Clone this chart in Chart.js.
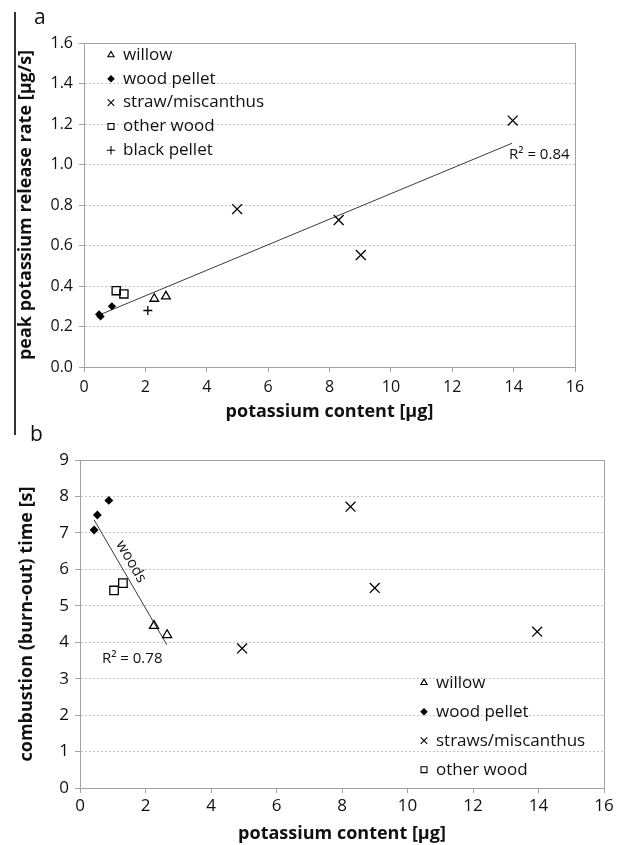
<!DOCTYPE html>
<html>
<head>
<meta charset="utf-8">
<script src="https://cdn.jsdelivr.net/npm/chart.js@4.4.1/dist/chart.umd.min.js"></script>
<style>
html,body{margin:0;padding:0;background:#fff;}
body{width:622px;height:845px;position:relative;overflow:hidden;font-family:'Open Sans',sans-serif;}
canvas{position:absolute;left:0;}
#ca{top:0;}
#cb{top:425px;}
.plbl{position:absolute;font-size:21px;line-height:21px;color:#111;font-family:'Open Sans',sans-serif;}
#edge{position:absolute;left:14px;top:12px;width:2px;height:423px;background:#333;}
</style>
</head>
<body>
<div id="edge"></div>
<canvas id="ca" width="622" height="425"></canvas>
<canvas id="cb" width="622" height="420"></canvas>
<div class="plbl" style="left:34px;top:6px">a</div>
<div class="plbl" style="left:30px;top:423px">b</div>
<script>
// ---------------- DATA ----------------
// Panel a: peak potassium release rate [µg/s] vs potassium content [µg]
const seriesNamesA = ['willow', 'wood pellet', 'straw/miscanthus', 'other wood', 'black pellet'];
const willowA      = [[2.29, 0.337], [2.67, 0.349]];
const woodPelletA  = [[0.49, 0.260], [0.54, 0.250], [0.91, 0.300]];
const strawA       = [[4.99, 0.780], [8.30, 0.726], [9.02, 0.553], [13.97, 1.217]];
const otherWoodA   = [[1.05, 0.377], [1.30, 0.361]];
const blackPelletA = [[2.08, 0.279]];
const trendA       = [[0.50, 0.257], [13.95, 1.105]];
const r2LabelA     = 'R² = 0.84';
const xTickRangeA  = [0, 16, 2];
const yTickRangeA  = [0, 1.6, 0.2];

// Panel b: combustion (burn-out) time [s] vs potassium content [µg]
const seriesNamesB = ['willow', 'wood pellet', 'straws/miscanthus', 'other wood'];
const willowB      = [[2.26, 4.45], [2.66, 4.20]];
const woodPelletB  = [[0.43, 7.08], [0.53, 7.49], [0.88, 7.89]];
const strawB       = [[4.95, 3.83], [8.26, 7.72], [9.00, 5.49], [13.96, 4.29]];
const otherWoodB   = [[1.04, 5.42], [1.31, 5.62]];
const trendB       = [[0.43, 7.36], [2.65, 3.93]];
const r2LabelB     = 'R² = 0.78';
const trendLabelB  = 'woods';
const xTickRangeB  = [0, 16, 2];
const yTickRangeB  = [0, 9, 1];

// ---------------- HELPERS ----------------
const FONT = "'Open Sans', sans-serif";
Chart.defaults.font.family = FONT;
Chart.defaults.color = '#111';
const AXIS = '#a3a3a3';
const GRID = '#c4c4c4';
const pts = arr => arr.map(p => ({x: p[0], y: p[1]}));

function markerSet(kind, big) {
  return {
    tri:  {pointStyle: 'triangle', r: big ? 5.2 : 5.0, lr: 3.6, bg: 'rgba(255,255,255,0)'},
    dia:  {pointStyle: 'rectRot',  r: big ? 3.5 : 3.2, lr: 3.0, bg: '#000'},
    x:    {pointStyle: 'crossRot', r: 7.0,             lr: 4.6, bg: '#000'},
    sq:   {pointStyle: 'rect',     r: big ? 6.0 : 5.8, lr: 4.2, bg: 'rgba(255,255,255,0)'},
    plus: {pointStyle: 'cross',    r: 4.5,             lr: 4.2, bg: '#000'}
  }[kind];
}

function ds(label, data, kind, big) {
  const m = markerSet(kind, big);
  return {
    label, data: pts(data), type: 'scatter',
    pointStyle: m.pointStyle, pointRadius: m.r, pointHoverRadius: m.r,
    pointBackgroundColor: m.bg, pointBorderColor: '#000', pointBorderWidth: 1.3,
    backgroundColor: m.bg, borderColor: '#000',
    legendRadius: m.lr, order: 0
  };
}

function trendDs(data) {
  return {
    label: 'trend', data: pts(data), type: 'line', showLine: true,
    borderColor: '#3a3a3a', borderWidth: 1, pointRadius: 0, fill: false,
    noLegend: true, order: 10
  };
}

// frame around the plot area
const framePlugin = {
  id: 'frame',
  beforeDatasetsDraw(chart) {
    const {ctx, chartArea: a} = chart;
    ctx.save();
    ctx.strokeStyle = AXIS;
    ctx.lineWidth = 1;
    ctx.strokeRect(Math.round(a.left) + 0.5, Math.round(a.top) + 0.5,
                   Math.round(a.right - a.left), Math.round(a.bottom - a.top));
    ctx.restore();
  }
};

// legend drawn inside the plot area
const innerLegend = {
  id: 'innerLegend',
  afterDraw(chart, args, opts) {
    const ctx = chart.ctx;
    let i = 0;
    ctx.save();
    chart.data.datasets.forEach(d => {
      if (d.noLegend) return;
      const y = opts.y + i * opts.dy;
      ctx.fillStyle = d.pointBackgroundColor;
      ctx.strokeStyle = '#000';
      ctx.lineWidth = 1.1;
      Chart.helpers.drawPoint(ctx, {pointStyle: d.pointStyle, radius: d.legendRadius, rotation: 0, borderWidth: 1.1}, opts.x, y);
      ctx.fillStyle = '#111';
      ctx.font = opts.size + 'px ' + FONT;
      ctx.textAlign = 'left';
      ctx.textBaseline = 'middle';
      ctx.fillText(d.label, opts.textX, y);
      i++;
    });
    ctx.restore();
  }
};

// free text annotations placed in data coordinates
const notes = {
  id: 'notes',
  afterDatasetsDraw(chart, args, opts) {
    const ctx = chart.ctx;
    const sx = chart.scales.x, sy = chart.scales.y;
    (opts.items || []).forEach(it => {
      const px = sx.getPixelForValue(it.x), py = sy.getPixelForValue(it.y);
      ctx.save();
      ctx.fillStyle = '#111';
      ctx.font = it.size + 'px ' + FONT;
      ctx.textAlign = it.align || 'left';
      ctx.textBaseline = 'middle';
      ctx.translate(px, py);
      if (it.alongDataset !== undefined) {
        const d = chart.data.datasets[it.alongDataset].data;
        const dx = sx.getPixelForValue(d[1].x) - sx.getPixelForValue(d[0].x);
        const dy = sy.getPixelForValue(d[1].y) - sy.getPixelForValue(d[0].y);
        ctx.rotate(Math.atan2(dy, dx));
      }
      ctx.fillText(it.text, 0, 0);
      ctx.restore();
    });
  }
};

function makeScales(cfg) {
  return {
    x: {
      type: 'linear', min: cfg.xr[0], max: cfg.xr[1],
      ticks: {stepSize: cfg.xr[2], font: {size: cfg.tickSize}, color: '#111', padding: cfg.xPad, maxRotation: 0},
      grid: {drawOnChartArea: false, drawTicks: true, tickLength: 5, tickColor: AXIS, color: AXIS},
      border: {color: AXIS, width: 1},
      title: {display: true, text: 'potassium content [µg]', color: '#111',
              font: {size: 18, weight: 'bold'}, padding: {top: 0, bottom: cfg.xTitlePad}},
      afterFit(s) { s.height = cfg.xH; }
    },
    y: {
      type: 'linear', min: cfg.yr[0], max: cfg.yr[1],
      ticks: {stepSize: cfg.yr[2], font: {size: cfg.tickSize}, color: '#111', padding: cfg.yPad,
              callback: v => v.toFixed(cfg.dec)},
      grid: {
        color: c => (c.tick && (Math.abs(c.tick.value - cfg.yr[0]) < 1e-9 || Math.abs(c.tick.value - cfg.yr[1]) < 1e-9)) ? 'rgba(0,0,0,0)' : GRID,
        tickColor: AXIS, tickLength: 5, drawTicks: true, tickBorderDash: []
      },
      border: {color: AXIS, width: 1, dash: [2, 2]},
      title: {display: true, text: cfg.yTitle, color: '#111',
              font: {size: 18, weight: 'bold'}, padding: {top: cfg.yTitlePad, bottom: 0}},
      afterFit(s) { s.width = cfg.yW; }
    }
  };
}

// ---------------- PANEL A ----------------
new Chart(document.getElementById('ca'), {
  type: 'scatter',
  data: {
    datasets: [
      ds(seriesNamesA[0], willowA, 'tri', false),
      ds(seriesNamesA[1], woodPelletA, 'dia', false),
      ds(seriesNamesA[2], strawA, 'x', false),
      ds(seriesNamesA[3], otherWoodA, 'sq', false),
      ds(seriesNamesA[4], blackPelletA, 'plus', false),
      trendDs(trendA)
    ]
  },
  options: {
    responsive: false, animation: false, devicePixelRatio: 1,
    layout: {padding: {left: 0, top: 43, right: 47, bottom: 0}},
    scales: makeScales({xr: xTickRangeA, yr: yTickRangeA, tickSize: 16, xPad: 6, yPad: 6, dec: 1,
                        xTitlePad: 2, xH: 58, yW: 84, yTitlePad: 15,
                        yTitle: 'peak potassium release rate [µg/s]'}),
    plugins: {
      legend: {display: false}, tooltip: {enabled: false},
      innerLegend: {x: 111, y: 55, dy: 23.8, textX: 123, size: 17},
      notes: {items: [{text: r2LabelA, x: 13.85, y: 1.05, size: 15, align: 'left'}]}
    }
  },
  plugins: [framePlugin, innerLegend, notes]
});

// ---------------- PANEL B ----------------
new Chart(document.getElementById('cb'), {
  type: 'scatter',
  data: {
    datasets: [
      ds(seriesNamesB[0], willowB, 'tri', true),
      ds(seriesNamesB[1], woodPelletB, 'dia', true),
      ds(seriesNamesB[2], strawB, 'x', true),
      ds(seriesNamesB[3], otherWoodB, 'sq', true),
      trendDs(trendB)
    ]
  },
  options: {
    responsive: false, animation: false, devicePixelRatio: 1,
    layout: {padding: {left: 0, top: 35, right: 18, bottom: 0}},
    scales: makeScales({xr: xTickRangeB, yr: yTickRangeB, tickSize: 17, xPad: 3, yPad: 6, dec: 0,
                        xTitlePad: 0, xH: 57, yW: 80, yTitlePad: 16,
                        yTitle: 'combustion (burn-out) time [s]'}),
    plugins: {
      legend: {display: false}, tooltip: {enabled: false},
      innerLegend: {x: 424, y: 257.7, dy: 29, textX: 436, size: 17},
      notes: {items: [
        {text: r2LabelB, x: 0.67, y: 3.54, size: 15, align: 'left'},
        {text: trendLabelB, x: 1.56, y: 6.21, size: 15, align: 'center', alongDataset: 4}
      ]}
    }
  },
  plugins: [framePlugin, innerLegend, notes]
});
</script>
</body>
</html>
